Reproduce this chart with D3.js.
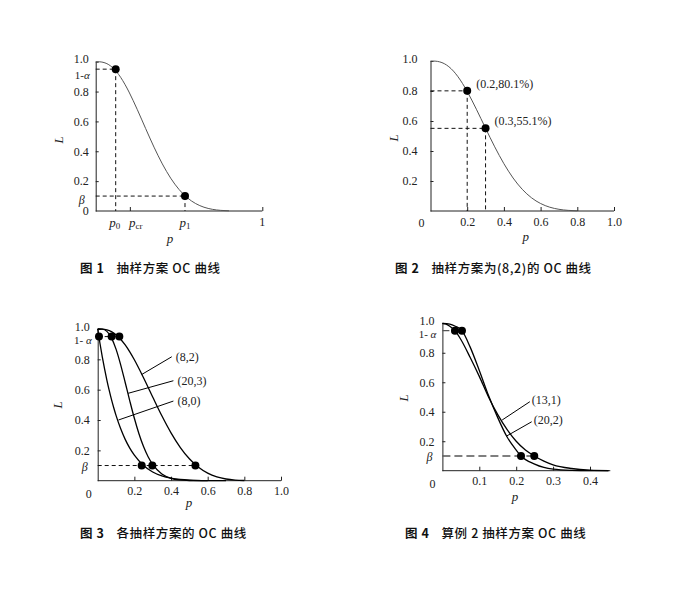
<!DOCTYPE html>
<html><head><meta charset="utf-8">
<script src="https://cdn.jsdelivr.net/npm/d3@7/dist/d3.min.js"></script>
<style>
body{margin:0;background:#fff;}
svg{display:block;}
.tk text{font-family:"Liberation Serif","Times New Roman",serif;font-size:12px;fill:#222;}
.tk path,.tk line{stroke:#222;stroke-width:1;}
.lbl{font-family:"Liberation Serif","Times New Roman",serif;font-size:12px;fill:#222;}
.cap{font-family:"Noto Sans CJK SC",sans-serif;font-size:12.5px;fill:#111;letter-spacing:0.6px;}
</style></head>
<body>
<svg id="c" width="700" height="599"></svg>
<script>
// ---------- data ----------
// OC curve of plan (8,2) used in figs 1, 2, 3
const p82 = [0,0.025,0.05,0.075,0.1,0.125,0.15,0.175,0.2,0.25,0.3,0.35,0.4,0.45,0.5,0.55,0.6,0.65,0.7,0.75,0.8];
const L82 = [1,0.9992,0.9942,0.9823,0.9619,0.9327,0.8948,0.8491,0.7969,0.6785,0.5518,0.4278,0.3154,0.2201,0.1445,0.0885,0.0498,0.0253,0.0113,0.0042,0.0012];
// plan (8,0)
const p80 = [0,0.0125,0.025,0.0375,0.05,0.0625,0.075,0.0875,0.1,0.125,0.15,0.175,0.2,0.25,0.3,0.35,0.4,0.45,0.5,0.6,0.7];
const L80 = [1,0.9043,0.8167,0.7366,0.6634,0.5967,0.536,0.4807,0.4305,0.3436,0.2725,0.2146,0.1678,0.1001,0.0576,0.0319,0.0168,0.0084,0.0039,0.0007,0.0001];
// plan (20,3)
const p203 = [0,0.025,0.05,0.075,0.1,0.125,0.15,0.175,0.2,0.225,0.25,0.275,0.3,0.35,0.4,0.45,0.5,0.6];
const L203 = [1,0.9987,0.9842,0.9418,0.8671,0.7654,0.6475,0.5266,0.4114,0.3098,0.2252,0.1581,0.1071,0.0444,0.016,0.0049,0.0013,0.0001];
// fig 4 plans (13,1) and (20,2)
const p131 = [0,0.01,0.02,0.034,0.05,0.075,0.1,0.125,0.15,0.175,0.2,0.225,0.249,0.275,0.3,0.35,0.4,0.45];
const L131 = [1,0.995,0.98,0.95,0.89,0.77,0.64,0.50,0.38,0.28,0.20,0.14,0.10,0.065,0.04,0.015,0.004,0.001];
const p202 = [0,0.02,0.035,0.053,0.075,0.1,0.125,0.15,0.175,0.2,0.213,0.25,0.275,0.3,0.35,0.4,0.45];
const L202 = [1,0.995,0.98,0.95,0.84,0.68,0.51,0.36,0.23,0.14,0.10,0.045,0.022,0.01,0.002,0,0];

const yTicks = [0.2,0.4,0.6,0.8,1.0];
const xTicks2 = [0.2,0.4,0.6,0.8,1.0];
const xTicks4 = [0.1,0.2,0.3,0.4];
const alphaLevel = 0.95, betaLevel = 0.1;
// fig1 key points
const fig1P0 = 0.12, fig1Pcr = 0.205, fig1P1 = 0.536;
// fig2 marked points
const fig2Pts = [[0.2,0.801,"(0.2,80.1%)"],[0.3,0.551,"(0.3,55.1%)"]];
// fig3 acceptance points: [p at 1-alpha, p at beta]
const fig3Alpha = [0.007,0.076,0.118];
const fig3Beta = [0.24,0.298,0.533];
const fig3Labels = [["(8,2)",0.24,0.70,0.404,0.817],["(20,3)",0.166,0.576,0.413,0.659],["(8,0)",0.113,0.40,0.413,0.525]];
const fig4Alpha = [0.034,0.053];
const fig4Beta = [0.213,0.249];
const fig4Labels = [["(13,1)",0.162,0.344,0.237,0.468],["(20,2)",0.174,0.235,0.242,0.332]];
const captions = ["图 1","抽样方案 OC 曲线","图 2","抽样方案为(8,2)的 OC 曲线","图 3","各抽样方案的 OC 曲线","图 4","算例 2 抽样方案 OC 曲线"];

// ---------- drawing ----------
const svg = d3.select("#c");
const zip = (a,b)=>a.map((v,i)=>[v,b[i]]);

function panel(o){
  const x = d3.scaleLinear().domain(o.xd).range(o.xr);
  const y = d3.scaleLinear().domain([0,1]).range(o.yr);
  const g = svg.append("g");
  const ax = d3.axisBottom(x).tickValues(o.xt||[]).tickSizeInner(-4).tickSizeOuter(0).tickPadding(6)
     .tickFormat(o.xf||d3.format(".1f"));
  g.append("g").attr("class","tk xa").attr("transform",`translate(0,${o.yr[0]})`).call(ax)
   .call(s=>s.select(".domain").attr("d",`M${o.xr[0]},0H${o.xr[1]}`));
  const ay = d3.axisLeft(y).tickValues(yTicks).tickSizeInner(-3).tickSizeOuter(0).tickPadding(o.ypad||8)
     .tickFormat(d3.format(".1f"));
  const yg = g.append("g").attr("class","tk ya").attr("transform",`translate(${o.xr[0]},0)`).call(ay);
  yg.selectAll(".tick").filter(d=>d===1).select("text").attr("dy","0.1em");
  return {x,y,g};
}
function curve(P,data,color,w){
  const line = d3.line().x(d=>P.x(d[0])).y(d=>P.y(d[1])).curve(d3.curveMonotoneX);
  P.g.append("path").attr("d",line(data)).attr("fill","none").attr("stroke",color).attr("stroke-width",w);
}
function dash(P,x1,y1,x2,y2,style){
  P.g.append("line").attr("x1",P.x(x1)).attr("y1",P.y(y1)).attr("x2",P.x(x2)).attr("y2",P.y(y2))
   .attr("stroke",style&&style.c||"#111").attr("stroke-width",style&&style.w||1)
   .attr("stroke-dasharray",style&&style.d||"4,3");
}
function dot(P,px,py){ P.g.append("circle").attr("cx",P.x(px)).attr("cy",P.y(py)).attr("r",4).attr("fill","#000"); }
function text(P,px,py,s,dx,dy,anchor){
  return P.g.append("text").attr("class","lbl").attr("x",P.x(px)+(dx||0)).attr("y",P.y(py)+(dy||0))
    .attr("text-anchor",anchor||"start").text(s);
}
function axisTitles(px,py,lx,ly){
  svg.append("text").attr("class","lbl").attr("x",px).attr("y",py).attr("text-anchor","middle")
    .style("font-style","italic").style("font-size","13px").text("p");
  svg.append("text").attr("class","lbl").attr("transform",`translate(${lx},${ly}) rotate(-90)`)
    .attr("text-anchor","middle").style("font-style","italic").style("font-size","13px").text("L");
}
function alphaLabel(P,dy,txt){
  const t = P.g.append("text").attr("class","lbl").attr("x",P.x(0)-6).attr("y",P.y(alphaLevel)+dy)
    .attr("text-anchor","end").style("font-size","11px");
  t.append("tspan").text(txt);
  t.append("tspan").style("font-style","italic").text("α");
}
function betaLabel(P,dy,dxo){
  P.g.append("text").attr("class","lbl").attr("x",P.x(0)-(dxo||9)).attr("y",P.y(betaLevel)+dy).attr("text-anchor","end")
   .style("font-style","italic").style("font-size","12px").text("β");
}
function caption(cx,cy,a,b){
  const t = svg.append("text").attr("class","cap").attr("x",cx).attr("y",cy);
  t.append("tspan").style("font-weight","700").text(a);
  t.append("tspan").attr("dx",12).style("font-weight","500").text(b);
}

// ----- Fig 1 -----
{
  const P = panel({xd:[0,1],xr:[95.7,262.3],yr:[211,61.7],xt:[fig1Pcr,1],xf:()=>"",ypad:7});
  curve(P,zip(p82,L82),"#555",1);
  dash(P,0,alphaLevel,fig1P0,alphaLevel); dash(P,fig1P0,alphaLevel,fig1P0,0);
  dash(P,0,betaLevel,fig1P1,betaLevel); dash(P,fig1P1,betaLevel,fig1P1,0);
  dot(P,fig1P0,alphaLevel); dot(P,fig1P1,betaLevel);
  alphaLabel(P,10,"1-");
  betaLabel(P,8,11);
  text(P,0,0,"0",-7,4,"end");
  const sub=(p,main,s,dx)=>{const t=P.g.append("text").attr("class","lbl").attr("x",P.x(p)+dx).attr("y",P.y(0)+16).attr("text-anchor","middle");
    t.append("tspan").style("font-style","italic").style("font-size","13px").text(main);
    t.append("tspan").attr("dy",2).style("font-size","9px").text(s);};
  sub(fig1P0,"p","0",-1); sub(fig1Pcr,"p","cr",6); sub(fig1P1,"p","1",0);
  text(P,1,0,"1",0,15,"middle");
  axisTitles(170,243,63,140);
  caption(80,273,captions[0],captions[1]);
}
// ----- Fig 2 -----
{
  const P = panel({xd:[0,1],xr:[430.5,614],yr:[211,61],xt:xTicks2,ypad:13});
  curve(P,zip(p82,L82),"#555",1);
  fig2Pts.forEach(([px,py,s])=>{
    dash(P,0,py,px,py); dash(P,px,py,px,0); dot(P,px,py);
    text(P,px,py,s,9,-3);
  });
  text(P,0,0,"0",-9,16,"middle");
  axisTitles(525.7,241,398,138);
  caption(395,273,captions[2],captions[3]);
}
// ----- Fig 3 -----
{
  const P = panel({xd:[0,1],xr:[97.7,281],yr:[480.7,329],xt:xTicks2,ypad:8});
  curve(P,zip(p80,L80),"#000",1.3);
  curve(P,zip(p203,L203),"#000",1.3);
  curve(P,zip(p82,L82),"#000",1.3);
  dash(P,0,alphaLevel,d3.max(fig3Alpha),alphaLevel);
  dash(P,0,betaLevel,d3.max(fig3Beta),betaLevel);
  fig3Alpha.forEach(p=>dot(P,p,alphaLevel));
  fig3Beta.forEach(p=>dot(P,p,betaLevel));
  fig3Labels.forEach(([s,cx,cy,lx,ly])=>{
    dash(P,cx,cy,lx,ly,{c:"#000",w:1,d:"none"});
    text(P,lx,ly,s,4,4);
  });
  alphaLabel(P,7,"1- ");
  betaLabel(P,5,10);
  text(P,0,0,"0",-9,17,"middle");
  axisTitles(189,507,62,405);
  caption(80,538,captions[4],captions[5]);
}
// ----- Fig 4 -----
{
  const P = panel({xd:[0,0.455],xr:[442.4,442.4+0.455*369],yr:[470.7,323.3],xt:xTicks4,ypad:8});
  curve(P,zip(p131,L131),"#000",1.3);
  curve(P,zip(p202,L202),"#000",1.3);
  dash(P,0,alphaLevel,d3.max(fig4Alpha),alphaLevel,{c:"#555",w:1.2,d:"7,4"});
  dash(P,0,betaLevel,d3.max(fig4Beta),betaLevel,{c:"#555",w:1.4,d:"8,4"});
  fig4Alpha.forEach(p=>dot(P,p,alphaLevel));
  fig4Beta.forEach(p=>dot(P,p,betaLevel));
  fig4Labels.forEach(([s,cx,cy,lx,ly])=>{
    dash(P,cx,cy,lx,ly,{c:"#000",w:1,d:"none"});
    text(P,lx,ly,s,2,2);
  });
  alphaLabel(P,7,"1- ");
  betaLabel(P,5,10);
  text(P,0,0,"0",-10,17,"middle");
  axisTitles(515,501,408,398);
  caption(405,538,captions[6],captions[7]);
}
</script>
</body></html>
